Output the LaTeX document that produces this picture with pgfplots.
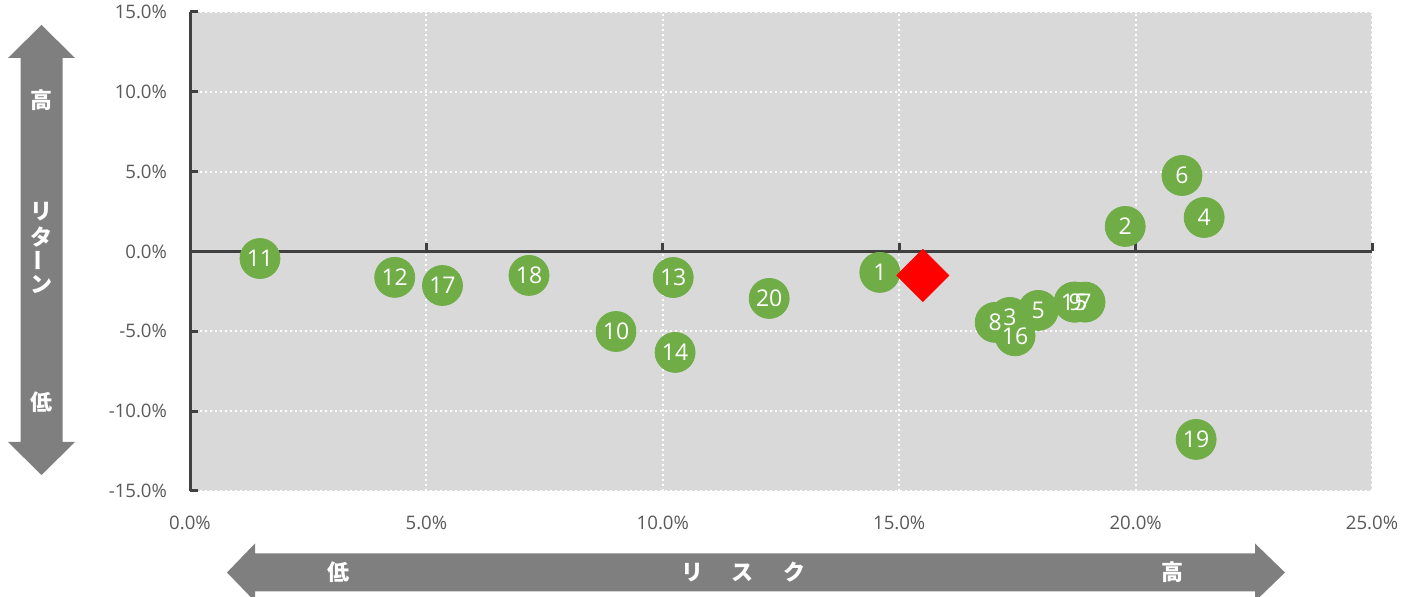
\documentclass[border=0pt]{standalone}
\usepackage{pgfplots}
\pgfplotsset{compat=1.18}
\usepackage{fontspec}
\setmainfont{Open Sans}
\newfontfamily\jp{Noto Sans CJK JP}
\usepackage{graphicx}
\definecolor{bg}{HTML}{D9D9D9}
\definecolor{grn}{HTML}{70AD47}
\definecolor{axg}{HTML}{404040}
\definecolor{txt}{HTML}{595959}
\definecolor{arr}{HTML}{7F7F7F}
\pgfplotstableread{
x y label
14.59 -1.31 1
19.78 1.57 2
17.34 -4.13 3
21.45 2.13 4
17.94 -3.69 5
20.98 4.76 6
18.93 -3.17 7
17.03 -4.44 8
18.72 -3.17 9
9.01 -5.01 10
1.48 -0.44 11
4.33 -1.62 12
10.22 -1.63 13
10.26 -6.32 14
18.70 -3.17 15
17.45 -5.28 16
5.34 -2.13 17
7.17 -1.50 18
21.28 -11.77 19
12.25 -2.94 20
}\pts
\pgfplotstableread{
x y
15.50 -1.50
}\avg
\begin{document}
\begin{tikzpicture}[x=1pt,y=1pt]
\useasboundingbox (0,0) rectangle (701,298.5);
% vertical arrow
\fill[arr] (20.75,286) -- (37.5,269.5) -- (31.25,269.5) -- (31.25,77.5) -- (37.5,77.5) -- (20.75,61) -- (4,77.5) -- (10.25,77.5) -- (10.25,269.5) -- (4,269.5) -- cycle;
\begin{scope}[every node/.style={text=white,font=\jp\bfseries\fontsize{11}{12}\selectfont,inner sep=0pt}]
\node at (20.75,248.5) {高};
\node at (20.75,192.5) {リ};
\node at (20.75,180) {タ};
\node at (20.75,168) {\rotatebox{90}{ー}};
\node at (20.75,156) {ン};
\node at (20.75,97.5) {低};
\end{scope}
% horizontal arrow
\fill[arr] (113.5,12.25) -- (127.5,26.75) -- (127.5,21.75) -- (627.5,21.75) -- (627.5,26.75) -- (642.5,12.25) -- (627.5,-2.25) -- (627.5,2.75) -- (127.5,2.75) -- (127.5,-2.25) -- cycle;
\begin{scope}[every node/.style={text=white,font=\jp\bfseries\fontsize{11}{12}\selectfont,inner sep=0pt}]
\node at (169,12.25) {低};
\node at (346,12.25) {リ};
\node at (371,12.25) {ス};
\node at (397,12.25) {ク};
\node at (586,12.25) {高};
\end{scope}
\begin{axis}[
  at={(95pt,53pt)}, anchor=south west,
  scale only axis, width=591pt, height=239.5pt,
  xmin=0, xmax=25, ymin=-15, ymax=15,
  xtick={0,5,10,15,20,25}, ytick={-15,-10,-5,0,5,10,15},
  axis background/.style={fill=bg},
  axis line style={draw=none},
  major tick length=0pt,
  grid=major,
  grid style={white, line width=1pt, dash pattern=on 1pt off 1.5pt},
  xticklabel={\pgfmathprintnumber[fixed,fixed zerofill,precision=1]{\tick}\%},
  yticklabel={\pgfmathprintnumber[fixed,fixed zerofill,precision=1]{\tick}\%},
  /pgf/number format/assume math mode=true,
  tick label style={text=txt, font=\fontsize{9.3}{11}\selectfont},
  xticklabel style={yshift=-9pt},
  yticklabel style={xshift=-8pt},
  clip=false,
]
\draw[axg, line width=1.5pt] (axis cs:0,-15) -- (axis cs:0,15);
\draw[axg, line width=1.5pt] (axis cs:0,0) -- (axis cs:25,0);
\draw[axg, line width=1.5pt] (axis cs:0,15) -- ([xshift=4pt]axis cs:0,15);
\draw[axg, line width=1.5pt] (axis cs:0,10) -- ([xshift=4pt]axis cs:0,10);
\draw[axg, line width=1.5pt] (axis cs:0,5) -- ([xshift=4pt]axis cs:0,5);
\draw[axg, line width=1.5pt] (axis cs:0,-5) -- ([xshift=4pt]axis cs:0,-5);
\draw[axg, line width=1.5pt] (axis cs:0,-10) -- ([xshift=4pt]axis cs:0,-10);
\draw[axg, line width=1.5pt] (axis cs:0,-15) -- ([xshift=4pt]axis cs:0,-15);
\draw[axg, line width=1.5pt] (axis cs:5,0) -- ([yshift=4pt]axis cs:5,0);
\draw[axg, line width=1.5pt] (axis cs:10,0) -- ([yshift=4pt]axis cs:10,0);
\draw[axg, line width=1.5pt] (axis cs:15,0) -- ([yshift=4pt]axis cs:15,0);
\draw[axg, line width=1.5pt] (axis cs:20,0) -- ([yshift=4pt]axis cs:20,0);
\draw[axg, line width=1.5pt] (axis cs:25,0) -- ([yshift=4pt]axis cs:25,0);
\addplot[grn, only marks, mark=*, mark size=10pt]
  table[x=x, y=y] {\pts};
\addplot[red, only marks, mark=square*, mark size=9.2pt, mark options={rotate=45}]
  table[x=x, y=y] {\avg};
\addplot[only marks, mark=none,
  point meta=explicit symbolic, nodes near coords,
  nodes near coords style={anchor=center, text=white, font=\fontsize{11.5}{12}\selectfont, inner sep=0pt}]
  table[x=x, y=y, meta=label] {\pts};
\end{axis}
\end{tikzpicture}
\end{document}
